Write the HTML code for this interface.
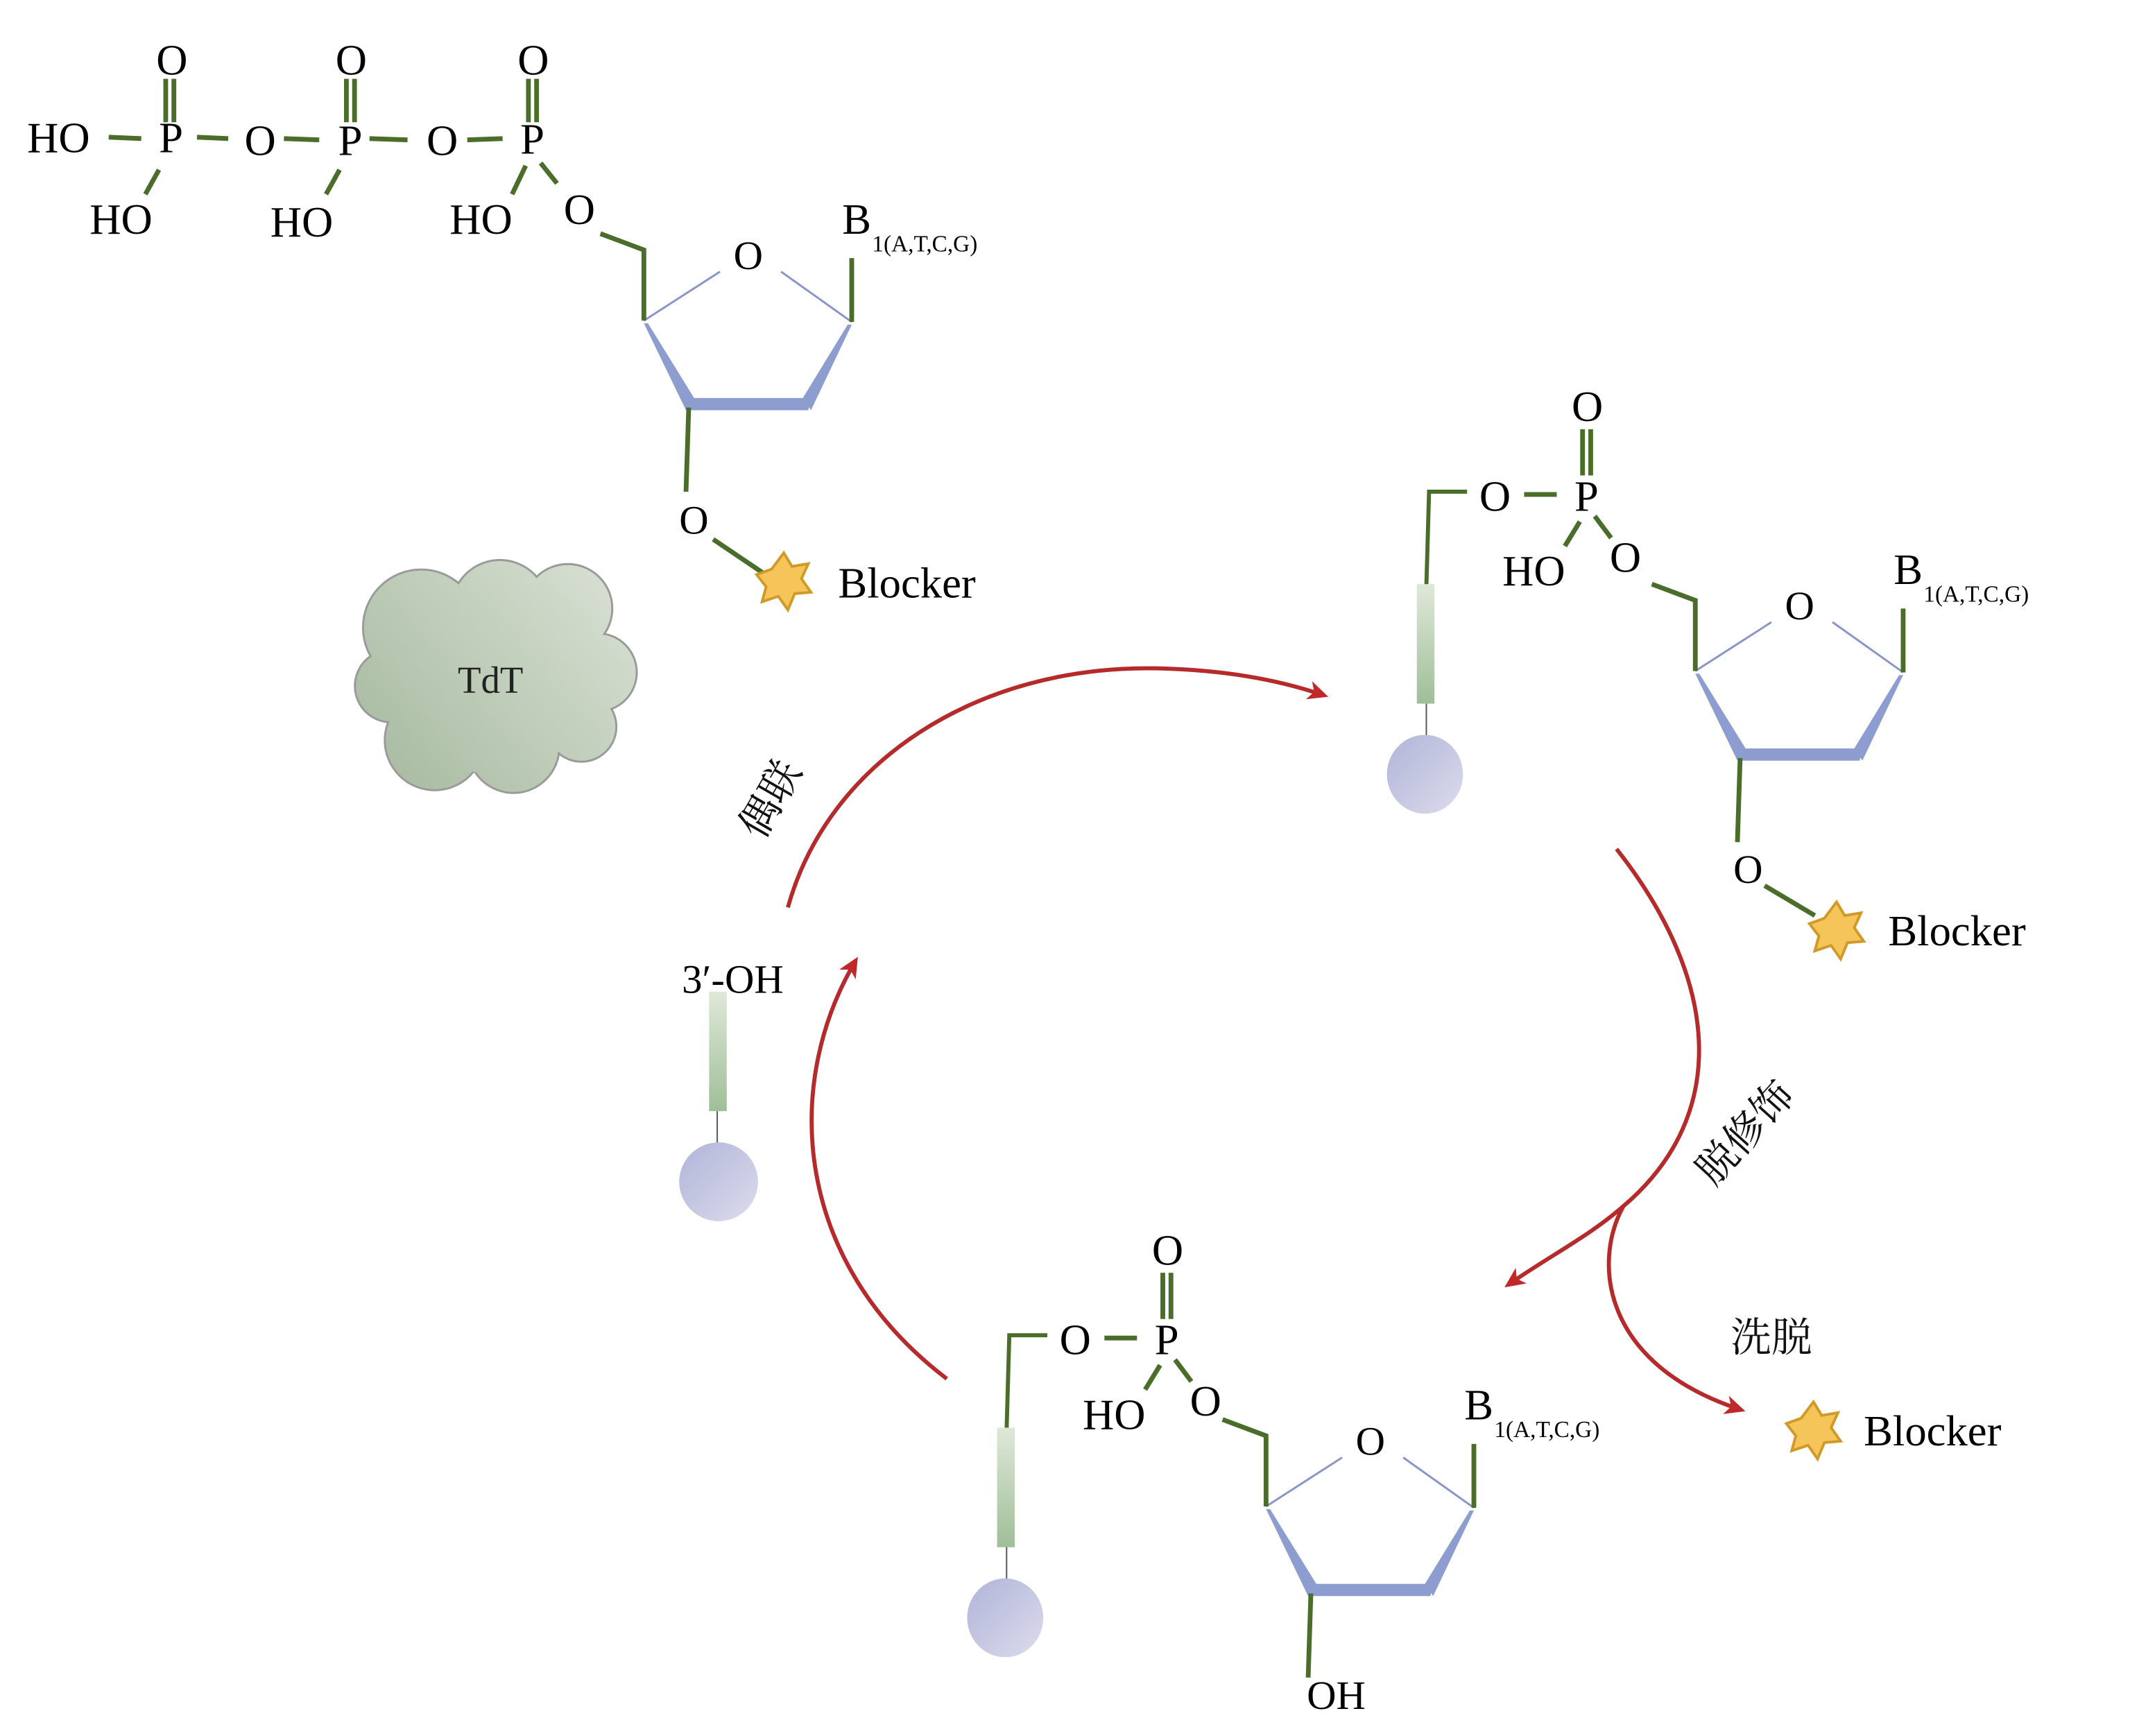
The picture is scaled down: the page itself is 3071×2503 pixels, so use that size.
<!DOCTYPE html>
<html><head><meta charset="utf-8"><style>html,body{margin:0;padding:0;background:#fff}svg{display:block}</style></head><body>
<svg width="3071" height="2503" viewBox="0 0 1568 1278" preserveAspectRatio="none" xmlns="http://www.w3.org/2000/svg" font-family="'Liberation Serif', serif">
<defs>
<linearGradient id="cg" gradientUnits="userSpaceOnUse" x1="262" y1="583" x2="468" y2="413"><stop offset="0" stop-color="#a4b89d"/><stop offset="1" stop-color="#dbe2d6"/></linearGradient>
<linearGradient id="sg" x1="0" y1="0" x2="0" y2="1"><stop offset="0" stop-color="#dfe8d8"/><stop offset="1" stop-color="#9fbf98"/></linearGradient>
<linearGradient id="bg" x1="0" y1="0" x2="1" y2="1"><stop offset="0" stop-color="#b0b4d8"/><stop offset="1" stop-color="#dcdcec"/></linearGradient>
<marker id="ah" markerUnits="userSpaceOnUse" markerWidth="20" markerHeight="16" refX="12" refY="7" orient="auto"><path d="M0,0 L15,7 L0,14 L4,7 z" fill="#c0282a"/></marker>
<g id="ring">
<line x1="0" y1="0" x2="56" y2="-36" stroke="#8a94c8" stroke-width="1.5"/>
<line x1="101" y1="-36" x2="153" y2="1" stroke="#8a94c8" stroke-width="1.5"/>
<polygon points="0,2 3,2 37,57 31,66" fill="#8e9dd0"/>
<polygon points="31,57 123,57 121,66 33,66" fill="#8e9dd0"/>
<polygon points="153,3 150,3 117,57 123,66" fill="#8e9dd0"/>
<g stroke="#4a6e2a" stroke-width="3.5" fill="none">
<polyline points="-32,-64 0,-52 0,0"/>
<line x1="153" y1="1" x2="153" y2="-46"/>
<line x1="33" y1="64" x2="31" y2="126"/>
</g>
<text x="66" y="-38" font-size="30">O</text>
<text x="146" y="-64" font-size="32">B</text>
<text x="168" y="-51" font-size="17">1(A,T,C,G)</text>
</g>
<g id="star"><polygon points="0,-21 6,-11 18,-13 13,-2 20,8 8,9 3,21 -4,11 -16,15 -13,4 -20,-5 -9,-9" fill="#f5c55a" stroke="#d19a28" stroke-width="2"/></g>
<g id="phos">
<polyline points="1080,362 1052,362 1050,432" fill="none" stroke="#4a6e2a" stroke-width="3"/>
<rect x="1043" y="430" width="13" height="88" fill="url(#sg)"/>
<line x1="1050" y1="518" x2="1050" y2="542" stroke="#555" stroke-width="1"/>
<ellipse cx="1049" cy="570" rx="28" ry="29" fill="url(#bg)"/>
<text x="1089" y="376" font-size="32">O</text>
<text x="1159" y="376" font-size="32">P</text>
<text x="1157" y="310" font-size="32">O</text>
<text x="1106" y="431" font-size="32">HO</text>
<text x="1185" y="421" font-size="32">O</text>
<g stroke="#4a6e2a" stroke-width="3.5">
<line x1="1122" y1="364" x2="1146" y2="364"/>
<line x1="1165" y1="316" x2="1165" y2="350"/><line x1="1171" y1="316" x2="1171" y2="350"/>
<line x1="1163" y1="384" x2="1152" y2="402"/>
<line x1="1174" y1="380" x2="1186" y2="396"/>
</g>
</g>
</defs>

<g font-size="32">
<text x="20" y="112">HO</text>
<text x="117" y="112">P</text><text x="115" y="55">O</text>
<text x="180" y="114">O</text>
<text x="249" y="114">P</text><text x="247" y="55">O</text>
<text x="314" y="114">O</text>
<text x="383" y="113">P</text><text x="381" y="55">O</text>
<text x="66" y="172">HO</text>
<text x="199" y="174">HO</text>
<text x="331" y="172">HO</text>
<text x="415" y="165">O</text>
</g>
<g stroke="#4a6e2a" stroke-width="3.5">
<line x1="80" y1="101" x2="104" y2="102"/>
<line x1="145" y1="101" x2="168" y2="102"/>
<line x1="209" y1="102" x2="235" y2="103"/>
<line x1="272" y1="102" x2="300" y2="103"/>
<line x1="344" y1="103" x2="370" y2="102"/>
<line x1="122" y1="58" x2="122" y2="90"/><line x1="128" y1="58" x2="128" y2="90"/>
<line x1="255" y1="58" x2="255" y2="90"/><line x1="261" y1="58" x2="261" y2="90"/>
<line x1="389" y1="58" x2="389" y2="90"/><line x1="395" y1="58" x2="395" y2="90"/>
<line x1="117" y1="125" x2="107" y2="143"/>
<line x1="250" y1="125" x2="240" y2="143"/>
<line x1="387" y1="122" x2="377" y2="143"/>
<line x1="398" y1="120" x2="410" y2="135"/>
</g>
<use href="#ring" transform="translate(474,236)"/>
<g transform="translate(474,236)">
<text x="26" y="157" font-size="30">O</text>
<line x1="51" y1="161" x2="88" y2="186" stroke="#4a6e2a" stroke-width="3.5"/>
<use href="#star" transform="translate(103,192)"/>
<text x="143" y="204" font-size="32">Blocker</text>
</g>

<g stroke="#9a9a9a" stroke-width="3" fill="url(#cg)">
<circle cx="310" cy="462" r="42"/><circle cx="368" cy="448" r="35"/><circle cx="418" cy="448" r="32"/>
<circle cx="440" cy="495" r="28"/><circle cx="428" cy="535" r="25"/><circle cx="378" cy="550" r="33"/>
<circle cx="320" cy="545" r="36"/><circle cx="288" cy="505" r="26"/>
</g>
<g fill="url(#cg)">
<circle cx="310" cy="462" r="42"/><circle cx="368" cy="448" r="35"/><circle cx="418" cy="448" r="32"/>
<circle cx="440" cy="495" r="28"/><circle cx="428" cy="535" r="25"/><circle cx="378" cy="550" r="33"/>
<circle cx="320" cy="545" r="36"/><circle cx="288" cy="505" r="26"/><circle cx="365" cy="500" r="70"/>
</g>
<text x="337" y="510" font-size="28" fill="#222">TdT</text>

<use href="#phos"/>
<use href="#ring" transform="translate(1248,494)"/>
<g transform="translate(1248,494)">
<text x="28" y="156" font-size="30">O</text>
<line x1="51" y1="158" x2="88" y2="180" stroke="#4a6e2a" stroke-width="3.5"/>
<use href="#star" transform="translate(104,191)"/>
<text x="142" y="202" font-size="32">Blocker</text>
</g>

<use href="#phos" transform="translate(-309,621)"/>
<use href="#ring" transform="translate(932,1109)"/>
<text x="962" y="1258" font-size="30">OH</text>

<text x="502" y="731" font-size="30">3′-OH</text>
<rect x="522" y="730" width="13" height="88" fill="url(#sg)"/>
<line x1="528" y1="818" x2="528" y2="842" stroke="#555" stroke-width="1"/>
<ellipse cx="529" cy="870" rx="29" ry="29" fill="url(#bg)"/>

<g fill="none" stroke="#b52a2a" stroke-width="3">
<path d="M580,668 C610,560 720,490 850,492 C900,493 940,500 975,512" marker-end="url(#ah)"/>
<path d="M1190,625 C1265,720 1275,820 1195,888 C1170,910 1140,925 1110,946" marker-end="url(#ah)"/>
<path d="M1195,888 C1172,930 1180,1005 1282,1038" marker-end="url(#ah)"/>
<path d="M697,1015 C585,930 575,800 630,707" marker-end="url(#ah)"/>
</g>

<g font-family="'Liberation Serif','Noto Serif CJK SC','Noto Sans CJK SC',serif" font-size="30" fill="#111">
<text transform="translate(570,590) rotate(-60)" text-anchor="middle" dominant-baseline="middle">偶联</text>
<text transform="translate(1287,836) rotate(-48)" text-anchor="middle" dominant-baseline="middle">脱修饰</text>
<text x="1274" y="995">洗脱</text>
</g>
<use href="#star" transform="translate(1335,1053)"/>
<text x="1372" y="1064" font-size="32">Blocker</text>
</svg>
</body></html>
